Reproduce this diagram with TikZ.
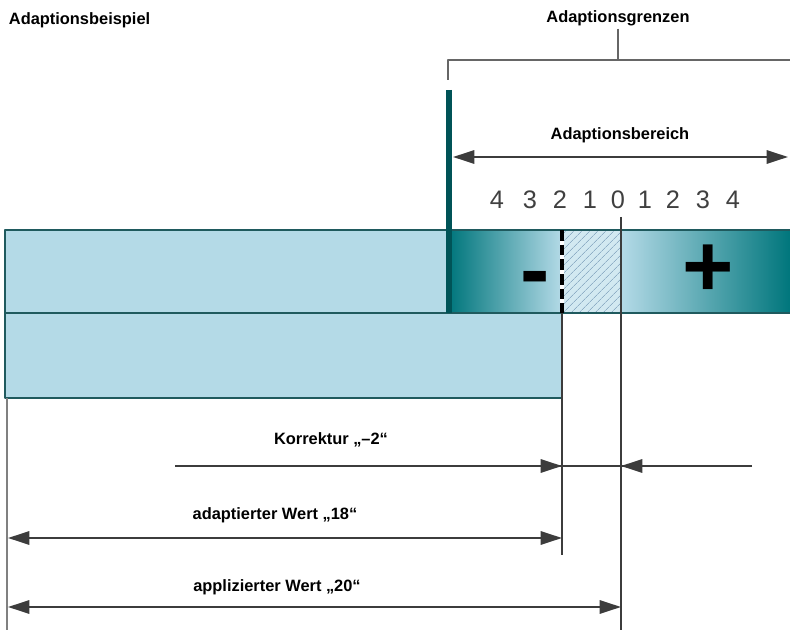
\documentclass[tikz,border=0pt]{standalone}
\usepackage{fontspec}
\setmainfont{Liberation Sans}
\usetikzlibrary{arrows.meta,patterns.meta,positioning}
\definecolor{barblue}{HTML}{B4DAE7}
\definecolor{tealdark}{HTML}{00767C}
\definecolor{edgeteal}{HTML}{1F5A5E}
\definecolor{linegray}{HTML}{3C3C3C}
\definecolor{hatchblue}{HTML}{8FAFC6}
\tikzset{lab/.style={font=\bfseries\fontsize{12.3}{14}\selectfont,inner sep=2pt},
  ziff/.style={font=\fontsize{19}{21}\selectfont,text=darkgray,inner sep=0pt},
  zeich/.style={font=\bfseries\fontsize{66}{70}\selectfont,inner sep=0pt},
  mass/.style={linegray,line width=1.5pt},
  klam/.style={gray!80!black,line width=1.1pt},
  kante/.style={edgeteal,line width=1.5pt}}

\begin{document}
\begin{tikzpicture}[x=0.75pt,y=-0.75pt,>={Triangle[length=16pt,width=10pt]},line join=round]
\useasboundingbox (0,0) rectangle (790,630);
% --- Ueberschriften, Klammer
\node[lab,anchor=west] (bsp) at (6,20) {Adaptionsbeispiel};
\node[lab] (grz) at (618,18) {Adaptionsgrenzen};
\coordinate (km) at (618,60); \coordinate (kl) at (448,80); \coordinate (kr) at (790,60);
\draw[klam] (grz.south) -- (km);
\draw[klam] (kl) -- (kl|-km) -- (kr);
% --- Balken
\fill[barblue] (5,230) rectangle (449,313);
\fill[barblue] (5,313) rectangle (562,398);
\shade[left color=tealdark,right color=barblue] (449,230) rectangle (562,313);
\fill[barblue!60!white] (562,230) rectangle (621,313);
\pattern[pattern={Lines[angle=45,distance=4pt,line width=0.6pt]},pattern color=hatchblue] (562,230) rectangle (621,313);
\shade[left color=barblue,right color=tealdark] (621,230) rectangle (790,313);
\draw[kante] (790,230) -- (5,230) -- (5,398) -- (562,398);
\draw[kante] (5,313) -- (790,313);
\draw[tealdark!70!black,line width=4pt] (449,90) -- (449,313);
\node[zeich,anchor=base] (minus) at (535,300) {-};
\node[zeich] (plus) at (708,271) {+};
% --- Adaptionsbereich
\node[lab] (ber) at (620,135) {Adaptionsbereich};
\coordinate (bl) at (453,157); \coordinate (br) at (788,157);
\draw[mass,<->] (bl) -- (br);
\foreach \x/\d in {497/4,530/3,560/2,590/1,618/0,645/1,673/2,703/3,733/4}
  \node[ziff] (z\x) at (\x,200) {\d};
% --- senkrechte Linien
\coordinate (o18) at (562,230); \coordinate (m18) at (562,313); \coordinate (u18) at (562,555);
\coordinate (o20) at (621,217); \coordinate (u20) at (621,630);
\draw[white,line width=3pt] (o18) -- (m18);
\draw[black,line width=3pt,dash pattern=on 8pt off 3pt] (o18) -- (m18);
\draw[mass,line width=1.2pt] (m18) -- (u18);
\draw[mass,line width=1.2pt] (o20) -- (u20);
\coordinate (u0) at (7,398); \coordinate (u1) at (7,630);
\draw[gray,line width=1.5pt] (u0) -- (u1);
% --- Korrektur
\node[lab] (korr) at (331,440) {Korrektur „–2“};
\coordinate (k0) at (175,466); \coordinate (k1) at (562,466);
\coordinate (k2) at (621,466); \coordinate (k3) at (752,466);
\draw[mass] (k0) -- (k3);
\draw[mass,->] (k0) -- (k1);
\draw[mass,->] (k3) -- (k2);
% --- adaptiert / appliziert
\node[lab] (ad) at (275,515) {adaptierter Wert „18“};
\coordinate (l18) at (8,538); \coordinate (r18) at (562,538);
\draw[mass,<->] (l18) -- (r18);
\node[lab] (ap) at (277,587) {applizierter Wert „20“};
\coordinate (l20) at (8,607); \coordinate (r20) at (621,607);
\draw[mass,<->] (l20) -- (r20);
\end{tikzpicture}
\end{document}
